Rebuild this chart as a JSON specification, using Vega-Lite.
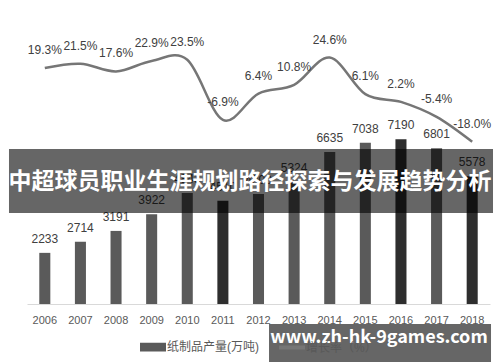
{
  "$schema": "https://vega.github.io/schema/vega-lite/v6.json",
  "width": 463,
  "height": 284,
  "autosize": "none",
  "padding": {"left": 27, "top": 20, "right": 10, "bottom": 58},
  "background": "white",
  "config": {
    "view": {"stroke": null},
    "font": "Liberation Sans, Noto Sans CJK SC, sans-serif"
  },
  "datasets": {
    "main": [
      {"year": "2006", "output": 2233, "rate": 19.3},
      {"year": "2007", "output": 2714, "rate": 21.5},
      {"year": "2008", "output": 3191, "rate": 17.6},
      {"year": "2009", "output": 3922, "rate": 22.9},
      {"year": "2010", "output": 4843, "rate": 23.5},
      {"year": "2011", "output": 4510, "rate": -6.9},
      {"year": "2012", "output": 4800, "rate": 6.4},
      {"year": "2013", "output": 5324, "rate": 10.8},
      {"year": "2014", "output": 6635, "rate": 24.6},
      {"year": "2015", "output": 7038, "rate": 6.1},
      {"year": "2016", "output": 7190, "rate": 2.2},
      {"year": "2017", "output": 6801, "rate": -5.4},
      {"year": "2018", "output": 5578, "rate": -18.0}
    ],
    "overlay": [
      {"kind": "banner", "x1": -0.0389, "x2": 1.0065, "y1": 3973, "y2": 6768, "tx": 0.4816, "ty": 5327, "text": "中超球员职业生涯规划路径探索与发展趋势分析"},
      {"kind": "mark", "x1": 0.5227, "x2": 1.0022, "y1": -2532, "y2": -870, "tx": 0.7603, "ty": -1500, "text": "www.zh-hk-9games.com"}
    ]
  },
  "layer": [
    {
      "data": {"name": "main"},
      "encoding": {
        "x": {
          "field": "year",
          "type": "ordinal",
          "scale": {"paddingInner": 0.69, "paddingOuter": 0.345},
          "axis": {
            "title": null,
            "labelAngle": 0,
            "ticks": false,
            "grid": false,
            "domainColor": "#d9d9d9",
            "labelColor": "#595959",
            "labelFontSize": 11,
            "labelPadding": 10
          }
        }
      },
      "layer": [
        {
          "layer": [
            {
              "mark": {"type": "bar"},
              "encoding": {
                "y": {"field": "output", "type": "quantitative", "scale": {"domain": [0, 12400], "nice": false}, "axis": null},
                "color": {
                  "condition": {"test": "indexof(['2011','2016','2018'], datum.year) >= 0", "value": "#2e2e2e"},
                  "datum": "纸制品产量(万吨)",
                  "scale": {"domain": ["纸制品产量(万吨)", "增长率（%）"], "range": ["#5a5a5a", "#767676"]},
                  "legend": {
                    "title": null,
                    "orient": "none",
                    "legendX": 113,
                    "legendY": 314,
                    "direction": "horizontal",
                    "symbolSize": 600,
                    "labelFontSize": 12,
                    "labelColor": "#595959",
                    "labelOffset": 1,
                    "columnPadding": 17,
                    "encode": {
                      "symbols": {
                        "update": {
                          "shape": {"signal": "datum.label === '增长率（%）' ? 'M-1,-0.1H1V0.1H-1Z' : 'M-1,-0.3H1V0.3H-1Z'"},
                          "fill": {"signal": "datum.label === '增长率（%）' ? '#767676' : '#5a5a5a'"},
                          "stroke": {"value": "transparent"},
                          "opacity": {"value": 1}
                        }
                      }
                    }
                  }
                }
              }
            },
            {
              "mark": {"type": "text", "baseline": "alphabetic", "dy": -10, "fontSize": 12, "color": "#404040"},
              "encoding": {
                "y": {"field": "output", "type": "quantitative", "scale": {"domain": [0, 12400], "nice": false}, "axis": null},
                "text": {"field": "output", "type": "quantitative", "format": "d"}
              }
            }
          ]
        },
        {
          "transform": [{"calculate": "(datum.rate < 0 ? '-' : '') + format(abs(datum.rate), '.1f') + '%'", "as": "rateLabel"}],
          "layer": [
            {
              "mark": {"type": "line", "interpolate": "cardinal", "strokeWidth": 2.5},
              "encoding": {
                "y": {"field": "rate", "type": "quantitative", "scale": {"domain": [-100, 43.6], "nice": false}, "axis": null},
                "color": {"datum": "增长率（%）"}
              }
            },
            {
              "mark": {"type": "text", "baseline": "alphabetic", "dy": -14, "fontSize": 12, "color": "#404040"},
              "encoding": {
                "y": {"field": "rate", "type": "quantitative", "scale": {"domain": [-100, 43.6], "nice": false}, "axis": null},
                "text": {"field": "rateLabel"}
              }
            }
          ]
        }
      ],
      "resolve": {"scale": {"y": "independent"}}
    },
    {
      "data": {"name": "overlay"},
      "layer": [
        {
          "mark": {"type": "rect", "color": "black", "opacity": 0.6},
          "encoding": {
            "x": {"field": "x1", "type": "quantitative", "scale": {"domain": [0, 1], "nice": false, "zero": false}, "axis": null},
            "x2": {"field": "x2"},
            "y": {"field": "y1", "type": "quantitative", "scale": {"domain": [0, 12400], "nice": false, "zero": false}, "axis": null},
            "y2": {"field": "y2"}
          }
        },
        {
          "mark": {"type": "text", "color": "white", "fontWeight": "bold", "baseline": "middle", "font": "Noto Sans CJK SC"},
          "encoding": {
            "x": {"field": "tx", "type": "quantitative", "scale": {"domain": [0, 1], "nice": false, "zero": false}, "axis": null},
            "y": {"field": "ty", "type": "quantitative", "scale": {"domain": [0, 12400], "nice": false, "zero": false}, "axis": null},
            "text": {"field": "text"},
            "size": {"condition": {"test": "datum.kind === 'banner'", "value": 23}, "value": 18}
          }
        }
      ]
    }
  ],
  "resolve": {"scale": {"x": "independent", "y": "independent", "color": "independent"}}
}
